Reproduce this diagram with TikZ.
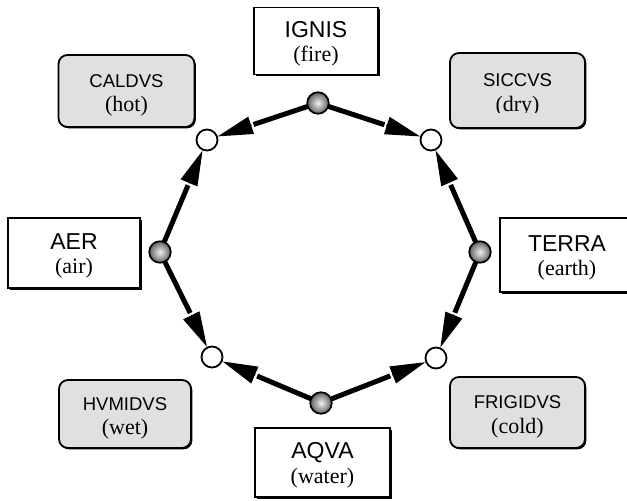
\documentclass[tikz,border=0pt]{standalone}
\usepackage{fontspec}
\setmainfont{Liberation Serif}
\setsansfont{Liberation Sans}
\usetikzlibrary{arrows.meta,calc,shadows}

\definecolor{boxgray}{HTML}{E0E0E0}
\pgfdeclarelayer{background}
\pgfsetlayers{background,main}

\tikzset{
  element/.style={draw=black, line width=1.8pt, fill=white, inner sep=0pt,
    drop shadow={shadow xshift=1.6pt, shadow yshift=-1.6pt, opacity=1, fill=black}},
  quality/.style={draw=black, line width=1.8pt, fill=boxgray, rounded corners=9pt, inner sep=0pt,
    drop shadow={shadow xshift=1.4pt, shadow yshift=-1.4pt, opacity=1, fill=black}},
  latin/.style={anchor=base, inner sep=0pt, font=\sffamily\fontsize{#1}{#1}\selectfont},
  gloss/.style={anchor=base, inner sep=0pt, font=\rmfamily\fontsize{#1}{#1}\selectfont},
  graydot/.style={circle, draw=black, line width=1.7pt, minimum size=21.5pt, inner sep=0pt,
    inner color=gray!12, outer color=black!62},
  whitedot/.style={circle, draw=black, line width=1.8pt, fill=white, minimum size=21pt, inner sep=0pt},
  edge/.style={line width=5pt, black},
  tip/.style={line width=1pt, -{Triangle[length=35pt, width=18pt]}},
}

% two-line caption of a box: Latin name above, English gloss below
% (y grows downwards in this picture)
\newcommand{\boxcaption}[5]{%
  \node[latin=#4] (#1-la) at ($(#1.center)+(0,-4)$) {#2};
  \node[gloss=#5] (#1-en) at ($(#1.center)+(0,20.5)$) {#3};
}

% line from a gray vertex, then a separate arrow head that stops at the white vertex
\newcommand{\flow}[2]{%
  \draw[edge] (#1.center) -- ($(#2.center)!49pt!(#1.center)$);
  \draw[tip] ($(#2.center)!47pt!(#1.center)$) -- ($(#2.center)!11.5pt!(#1.center)$);
}

\begin{document}
\begin{tikzpicture}[x=1pt, y=-1pt]
\useasboundingbox (0,0) rectangle (627,501);

% element boxes
\node[element, minimum width=124pt, minimum height=67pt] (ignis) at (316,41) {};
\node[element, minimum width=132pt, minimum height=70pt] (aer) at (74,253) {};
\node[element, minimum width=134pt, minimum height=74pt] (terra) at (567,255) {};
\node[element, minimum width=135pt, minimum height=69pt] (aqva) at (322.5,462.5) {};
\boxcaption{ignis}{IGNIS}{(fire)}{23}{22}
\boxcaption{aer}{AER}{(air)}{23}{22}
\boxcaption{terra}{TERRA}{(earth)}{23}{22}
\boxcaption{aqva}{AQVA}{(water)}{23}{22}

% quality boxes
\node[quality, minimum width=136pt, minimum height=72pt] (cald) at (126.5,91) {};
\node[quality, minimum width=135pt, minimum height=75pt] (sicc) at (517.5,90.5) {};
\node[quality, minimum width=132pt, minimum height=68pt] (hvm) at (125,414) {};
\node[quality, minimum width=135pt, minimum height=71pt] (frig) at (517.5,412.5) {};
\boxcaption{cald}{CALDVS}{(hot)}{18.5}{22}
\boxcaption{hvm}{HVMIDVS}{(wet)}{18.5}{22}
\boxcaption{frig}{FRIGIDVS}{(cold)}{18.5}{22}
\begin{scope}
  \clip (sicc.north west) rectangle ($(sicc.east)+(0,22)$);
  \boxcaption{sicc}{SICCVS}{(dry)}{18.5}{22}
\end{scope}

% vertices of the octagon
\node[graydot]  (fire)  at (318,103) {};
\node[whitedot] (tr)    at (431,140) {};
\node[graydot]  (earth) at (480,252) {};
\node[whitedot] (br)    at (436,358) {};
\node[graydot]  (water) at (321,403) {};
\node[whitedot] (bl)    at (212,357) {};
\node[graydot]  (air)   at (160,252) {};
\node[whitedot] (tl)    at (207,140) {};

% directed edges, kept under the vertices
\begin{pgfonlayer}{background}
\flow{fire}{tr}
\flow{fire}{tl}
\flow{earth}{tr}
\flow{earth}{br}
\flow{water}{br}
\flow{water}{bl}
\flow{air}{tl}
\flow{air}{bl}
\end{pgfonlayer}
\end{tikzpicture}
\end{document}
